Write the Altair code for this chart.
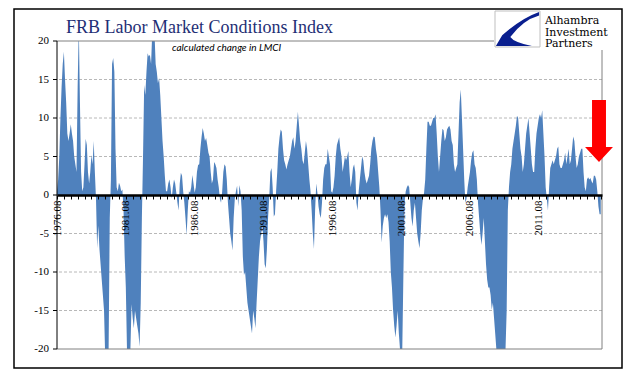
import altair as alt
import pandas as pd

title_text = "FRB Labor Market Conditions Index"
subtitle_text = "calculated change in LMCI"
logo_lines = ["Alhambra", "Investment", "Partners"]

start_year = 1976
start_month = 8

# monthly calculated change in LMCI, 5-year blocks starting each August
lmci_1976 = [0.5, 2, 5, 10, 14, 17, 18.6, 15, 12, 8, 7, 8, 9.2, 8, 7, 5, 4, 3, 14, 22,
             12, 3, 0.5, 1, 4, 7.3, 6.5, 3, 1.5, 3, 5.2, 4, 7, 3, -0.5, -6.9, -4, -7, -9, -11,
             -13, -15, -21, -22, -21, -20, -3, 2, 17, 17.8, 16, 6, 1, 0.5, 1.6, 1.2, 0.5, 0.7, -2, -8]
lmci_1981 = [-12, -20, -22, -22, -20, -14.2, -16, -17.3, -15, -16, -17, -18, -19.7, -14, -3, 5, 14.3, 13, 16, 18.4,
             18, 18.2, 17, 21, 22, 21, 17, 16, 14.5, 15.2, 13, 10, 7, 5, 2.5, 0.5, 0.5, 1.5, 2, 1,
             -0.5, 1, 2, 1.5, 0.3, -1, -2, 1.5, 2.9, 2.5, 0.5, -1, -3, -5.2, -2, 0.5, 0.3, 1, 2.6, 1.5]
lmci_1986 = [0.3, 1, 3, 3.9, 4, 6, 7.5, 8.7, 8, 7, 7.4, 6.5, 5.5, 5, 3, 1.5, 2, 4.3, 4, 3.5,
             2, 1, -0.5, -1, 0.5, 3, 4, 3.7, 2, -1, -3, -5, -6, -7.2, -3, -0.5, 0.5, 1.2, -1.5, 1.3,
             0.5, -2, -8, -10.4, -10, -12, -14, -15, -16, -17, -18, -15, -16, -17.3, -14, -11, -8, -6, -5, -4]
lmci_1991 = [-6, -9, -9.5, -7, -3, -0.5, 3, 3.5, 1, -2.8, -2.5, 0.5, 3, 6, 7.5, 8.5, 8.2, 6, 4.5, 4,
             3.3, 4, 4.5, 5, 6, 7, 7.5, 6, 7, 9, 10.8, 9, 7, 6, 4.5, 4, 5.5, 7, 6, 4,
             2, 0.5, -2, -5, -7, -2, 1.5, 0.3, -1.5, -2.5, -3, -1, 2, 3.5, 4, 4, 6, 5, 4, 0.5]
lmci_1996 = [0.3, 1, 2.5, 5, 6.5, 7, 7.5, 6, 5, 3, 4, 5, 4.5, 5, 5.7, 3, 1, 2, 3.5, 4,
             3, -1, -2, 0.5, 2, 3.5, 5, 4.5, 3, 2, 1.5, 2, 2.5, 4, 6, 7, 7.6, 7.5, 6, 5,
             3, 1, -2, -6.2, -4, -3, -2.5, -3, -2.5, -3.5, -6, -10, -12, -15, -17, -18.5, -17, -15, -18, -20]
lmci_2001 = [-21, -20, -10, -1, 0.5, 1, 1.3, 1, -1, -3, -4.1, -2, -1, -3, -5, -6, -6.9, -5, -2, -0.5,
             0.3, 2, 6, 9.5, 9.5, 9, 9, 9.5, 10, 10, 10.5, 8, 5, 3, 5, 7, 8.6, 8.4, 7, 7.5,
             8.5, 8.8, 9, 8.5, 7, 6.5, 4, 3, 3.5, 4, 8, 12, 13.7, 10, 6, 2, -1, -0.5, 1, 2]
lmci_2006 = [3, 4.5, 5.5, 5.8, 4, 3.5, 2, -1, -3, -5, -6.5, -5, -3, -6, -9, -11, -12, -12, -13, -14.9,
             -14, -16, -18, -20, -22, -23, -24, -23, -22, -21, -21, -20, -15, -2, 1, 3, 4, 6, 7, 8,
             9, 10.3, 10, 8, 6, 5, 3, 4, 6, 8, 9, 10, 8, 6, 4, 3, 3, 6, 8, 9]
lmci_2011 = [10, 10.5, 10, 11, 8, 5, 1, -0.5, -2, 1, 3.5, 4, 4.5, 4, 4.5, 5, 6, 6.3, 4, 3.5,
             3.5, 4, 4.5, 5.5, 4, 5, 6, 4, 4.5, 6, 7.6, 7, 5, 3.5, 4, 5, 5.5, 6, 6, 3,
             1, 0.5, 2, 2.3, 2, 2.2, 1.8, 1.5, 2.5, 2.5, 2, 0.5, -1.5, -2.5, -2.5]

y_ticks = [-20, -15, -10, -5, 0, 5, 10, 15, 20]
y_tick_labels = ["-20", "-15", "-10", "-5", "0", "5", "10", "15", "20"]
grid_values = [-15, -10, -5, 5, 10, 15]
border_values = [20, -20]

series = (lmci_1976 + lmci_1981 + lmci_1986 + lmci_1991 + lmci_1996
          + lmci_2001 + lmci_2006 + lmci_2011)
t0 = start_year + (start_month - 1) / 12
df = pd.DataFrame({"t": [t0 + i / 12 for i in range(len(series))], "v": series,
                   "z": [0] * len(series)})

tick_values = [t0 + 0.5 * k for k in range(80)]
x_domain = [t0, t0 + 475.1 / 12]

W, H = 545, 308
SERIF = "Liberation Serif"

x_enc = alt.X(
    "t:Q",
    scale=alt.Scale(domain=x_domain, nice=False, zero=False),
    axis=alt.Axis(
        values=tick_values,
        labelExpr="(round((datum.value - %.6f) * 2) %% 10 == 0) ? format(round(datum.value - 0.58), 'd') + '.08' : ''" % t0,
        offset=-154, domainColor="black", domainWidth=2.5,
        tickColor="black", tickSize=4, tickWidth=1,
        labelAngle=270, labelFont=SERIF, labelFontSize=11, labelColor="black",
        labelPadding=1, labelOverlap=False, labelFlush=False,
        grid=False, title=None, zindex=1,
    ),
)
y_scale = alt.Scale(domain=[-20, 20], nice=False)

one = pd.DataFrame({"k": [0]})
ydf = pd.DataFrame({"y": y_ticks, "lab": y_tick_labels})

grid = alt.Chart(pd.DataFrame({"g": grid_values})).mark_rule(
    color="#A6A6A6", strokeDash=[3, 2], strokeWidth=0.8
).encode(y=alt.Y("g:Q", scale=y_scale, axis=None))

area = alt.Chart(df).mark_area(color="#4F81BD", clip=True).encode(
    x=x_enc, y=alt.Y("v:Q", scale=y_scale, axis=None), y2="z:Q"
)

borders = alt.Chart(pd.DataFrame({"b": border_values})).mark_rule(
    color="#808080", strokeWidth=1
).encode(y=alt.Y("b:Q", scale=y_scale, axis=None), x=alt.value(0), x2=alt.value(W))
right_border = alt.Chart(one).mark_rule(color="#808080", strokeWidth=1).encode(
    x=alt.value(W), y=alt.value(9), y2=alt.value(H))

# y axis drawn by hand: domain line, ticks, labels
y_domain = alt.Chart(one).mark_rule(color="black", strokeWidth=1).encode(
    x=alt.value(0), y=alt.value(0), y2=alt.value(H))
y_tick_marks = alt.Chart(ydf).mark_rule(color="black", strokeWidth=1).encode(
    y=alt.Y("y:Q", scale=y_scale, axis=None), x=alt.value(-4), x2=alt.value(0))
y_labels = alt.Chart(ydf).mark_text(
    align="right", baseline="middle", font=SERIF, fontSize=11, color="black"
).encode(y=alt.Y("y:Q", scale=y_scale, axis=None), x=alt.value(-8), text="lab:N")

outer = alt.Chart(one).mark_rect(fillOpacity=0, stroke="black", strokeWidth=1.5).encode(
    x=alt.value(-43), x2=alt.value(565), y=alt.value(-32), y2=alt.value(327))

title = alt.Chart(one).mark_text(
    align="left", baseline="alphabetic", font=SERIF, fontSize=18, color="#1F2F75"
).encode(x=alt.value(9), y=alt.value(-8), text=alt.value(title_text))

subtitle = alt.Chart(one).mark_text(
    align="left", baseline="alphabetic", font="Lato", fontStyle="italic", fontSize=10, color="black"
).encode(x=alt.value(115), y=alt.value(10), text=alt.value(subtitle_text))

# logo box (white, interrupts the top border line near the logo)
logo_box = alt.Chart(one).mark_rect(fill="white", stroke="#BFBFBF", strokeWidth=1).encode(
    x=alt.value(438), x2=alt.value(483), y=alt.value(-30), y2=alt.value(6))
logo_gap = alt.Chart(one).mark_rect(fill="white").encode(
    x=alt.value(437), x2=alt.value(W + 2), y=alt.value(-2), y2=alt.value(8))

swoosh_path = "M 1.2 -0.95 Q 0.2 -0.6 -0.85 0.35 L -1.2 0.95 L 0.8 0.95 Q -0.2 0.75 -0.4 0.45 Q 0.3 -0.5 1.2 -0.75 Z"
swoosh = alt.Chart(one).mark_point(
    shape=swoosh_path, filled=True, color="#0A1F8F", opacity=1, size=1296, strokeWidth=0
).encode(x=alt.value(460.5), y=alt.value(-12))

logo_text = alt.Chart(one).mark_text(
    align="left", baseline="alphabetic", font="DejaVu Serif", fontSize=11, lineHeight=11.6, color="black"
).encode(x=alt.value(488), y=alt.value(-17), text=alt.value(logo_lines))

arrow_path = "M -0.225 -1 L 0.225 -1 L 0.225 0.516 L 0.45 0.516 L 0 1 L -0.45 0.516 L -0.225 0.516 Z"
arrow = alt.Chart(one).mark_point(
    shape=arrow_path, filled=True, color="#FF0000", opacity=1, size=3844, strokeWidth=0
).encode(x=alt.value(542), y=alt.value(90))

chart = alt.layer(
    grid, area, borders, logo_gap, right_border, y_domain, y_tick_marks, y_labels,
    outer, title, subtitle, logo_box, swoosh, logo_text, arrow
).properties(
    width=W, height=H,
    padding={"left": 49, "top": 33, "right": 22, "bottom": 21},
    autosize=alt.AutoSizeParams(type="none"),
).configure_view(stroke=None)

chart.save("out.html", embed_options={"renderer": "svg", "actions": False})
